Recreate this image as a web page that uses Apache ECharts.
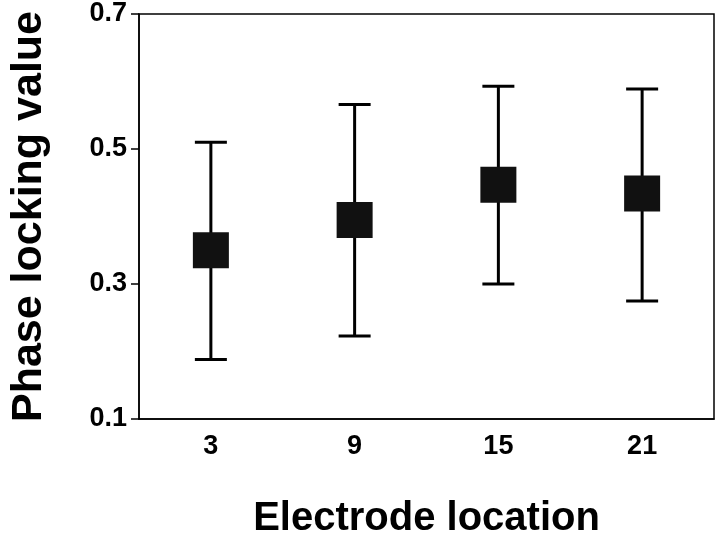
<!DOCTYPE html><html><head><meta charset="utf-8"><script src="https://cdn.jsdelivr.net/npm/echarts@6/dist/echarts.min.js"></script></head><body style="margin:0"><div id="c" style="width:716px;height:544px"></div><script>
const categories=['3','9','15','21'];
const means=[0.350,0.395,0.447,0.434];
const upper=[0.510,0.566,0.593,0.589];
const lower=[0.188,0.223,0.300,0.275];
const yTicks=[0.1,0.3,0.5,0.7];
const c=echarts.init(document.getElementById('c'));
const font='Liberation Sans, Arial, sans-serif';
c.setOption({animation:false,
grid:{left:125,right:2,top:14,bottom:120,show:true,borderColor:'#000',borderWidth:1.5},
xAxis:{type:'category',data:categories,name:'Electrode location',nameLocation:'middle',nameGap:80,
nameTextStyle:{fontSize:40,fontWeight:'bold',color:'#000',fontFamily:font},
axisLine:{lineStyle:{color:'#000',width:1.5}},axisTick:{show:false},
axisLabel:{fontSize:27,fontWeight:'bold',color:'#000',fontFamily:font,margin:14}},
yAxis:{type:'value',min:0.1,max:0.7,interval:0.2,name:'Phase locking value',nameLocation:'middle',nameGap:88,
nameTextStyle:{fontSize:43,fontWeight:'bold',color:'#000',fontFamily:font},
splitLine:{show:false},axisLine:{show:true,lineStyle:{color:'#000',width:1.5}},
axisTick:{show:true,inside:false,length:8,lineStyle:{width:1.5}},
axisLabel:{fontSize:27,fontWeight:'bold',color:'#000',fontFamily:font,margin:12,formatter:v=>v.toFixed(1)}},
series:[{type:'custom',data:categories.map((k,i)=>[i,lower[i],upper[i]]),
renderItem:(p,api)=>{const lo=api.coord([api.value(0),api.value(1)]),hi=api.coord([api.value(0),api.value(2)]);const w=16;
return {type:'group',children:[
{type:'line',shape:{x1:lo[0],y1:lo[1],x2:hi[0],y2:hi[1]},style:{stroke:'#000',lineWidth:3}},
{type:'line',shape:{x1:lo[0]-w,y1:lo[1],x2:lo[0]+w,y2:lo[1]},style:{stroke:'#000',lineWidth:3}},
{type:'line',shape:{x1:hi[0]-w,y1:hi[1],x2:hi[0]+w,y2:hi[1]},style:{stroke:'#000',lineWidth:3}}]};},z:1},
{type:'scatter',data:means,symbol:'rect',symbolSize:36,itemStyle:{color:'#111',opacity:1},z:2}]});
</script></body></html>
